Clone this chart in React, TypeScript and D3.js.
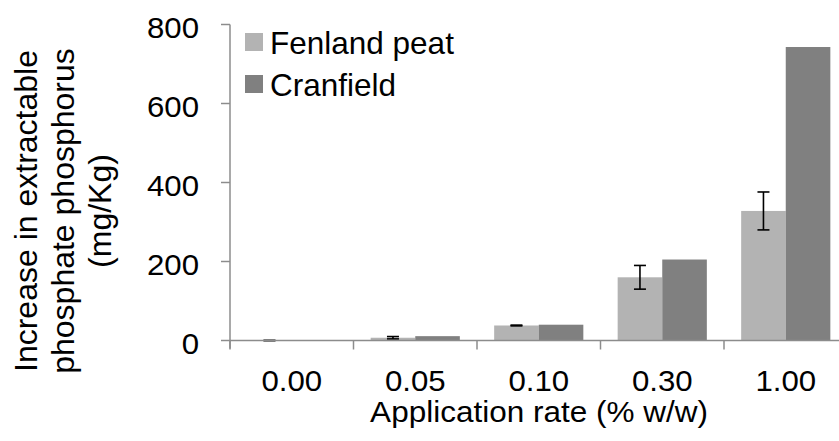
import React from "react";
import * as d3 from "d3";

// Application rates (% w/w) on the x axis
const rates = ["0.00", "0.05", "0.10", "0.30", "1.00"];
// Increase in extractable phosphate phosphorus (mg/Kg)
const fenland = [0, 7, 38, 160, 328];
const fenlandErr = [0, 3, 1, 30, 48];
const cranfield = [0, 11, 40, 205, 743];
const yTicks = [0, 200, 400, 600, 800];
const seriesNames = ["Fenland peat", "Cranfield"];
const seriesColors = ["#b3b3b3", "#808080"];
const yTitleLines = ["Increase in extractable", "phosphate phosphorus", "(mg/Kg)"];

const W = 839;
const H = 441;
const left = 230;
const catWidth = 123.5;
const top = 24.5;
const bottom = 340.5;
const font = "'Liberation Sans', Arial, sans-serif";
const axisColor = "#8c8c8c";

// Horizontally widened text label
function WideText(props: {
  x: number;
  y: number;
  anchor: "start" | "middle" | "end";
  size: number;
  sx: number;
  children: React.ReactNode;
}) {
  return (
    <g transform={`translate(${props.x},${props.y}) scale(${props.sx},1)`}>
      <text x={0} y={0} textAnchor={props.anchor} fontSize={props.size} fill="#000">
        {props.children}
      </text>
    </g>
  );
}

export default function App() {
  const x = d3
    .scaleBand<string>()
    .domain(rates)
    .range([left, left + catWidth * rates.length])
    .paddingInner(0)
    .paddingOuter(0);
  const y = d3.scaleLinear().domain([0, 800]).range([bottom, top]);
  const inner = d3
    .scaleBand<number>()
    .domain([0, 1])
    .range([0, x.bandwidth()])
    .paddingInner(0)
    .paddingOuter(0.385);

  const series = [fenland, cranfield];

  return (
    <svg
      width={W}
      height={H}
      style={{ position: "absolute", left: 0, top: 0, background: "#fff" }}
      fontFamily={font}
    >
      <rect width={W} height={H} fill="#fff" />
      {/* bars */}
      {series.map((vals, si) =>
        rates.map((r, i) => (
          <rect
            key={`${si}-${r}`}
            x={(x(r) as number) + (inner(si) as number)}
            y={y(vals[i])}
            width={inner.bandwidth()}
            height={y(0) - y(vals[i])}
            fill={seriesColors[si]}
          />
        ))
      )}
      {/* error bars on Fenland peat */}
      {rates.map((r, i) => {
        const cx = (x(r) as number) + (inner(0) as number) + inner.bandwidth() / 2;
        const y1 = y(fenland[i] + fenlandErr[i]);
        const y2 = y(fenland[i] - fenlandErr[i]);
        return (
          <g key={`err-${r}`} stroke="#000" strokeWidth={1.6}>
            <line x1={cx} x2={cx} y1={y1} y2={y2} />
            <line x1={cx - 6} x2={cx + 6} y1={y1} y2={y1} />
            <line x1={cx - 6} x2={cx + 6} y1={y2} y2={y2} />
          </g>
        );
      })}
      {/* y axis */}
      <line x1={left} x2={left} y1={top} y2={bottom + 8} stroke={axisColor} strokeWidth={1.5} />
      {yTicks.map((t) => (
        <g key={`yt-${t}`}>
          <line x1={left - 9} x2={left} y1={y(t)} y2={y(t)} stroke={axisColor} strokeWidth={1.5} />
          <WideText x={199} y={y(t) + 13} anchor="end" size={30} sx={1.04}>
            {t}
          </WideText>
        </g>
      ))}
      {/* x axis */}
      <line x1={left} x2={W + 20} y1={bottom} y2={bottom} stroke={axisColor} strokeWidth={1.5} />
      {rates.map((r) => (
        <g key={`xt-${r}`}>
          <line
            x1={x(r) as number}
            x2={x(r) as number}
            y1={bottom}
            y2={bottom + 9}
            stroke={axisColor}
            strokeWidth={1.5}
          />
          <WideText x={(x(r) as number) + x.bandwidth() / 2} y={391} anchor="middle" size={30} sx={1.04}>
            {r}
          </WideText>
        </g>
      ))}
      {/* axis titles */}
      <WideText x={539} y={422} anchor="middle" size={30} sx={1.05}>
        Application rate (% w/w)
      </WideText>
      <g transform={`translate(0, 211) rotate(-90)`} fontSize={32} fill="#000" textAnchor="middle">
        {yTitleLines.map((l, i) => (
          <text key={l} x={0} y={37 + i * 37}>
            {l}
          </text>
        ))}
      </g>
      {/* legend */}
      {seriesNames.map((n, i) => (
        <g key={n} transform={`translate(245, ${33 + i * 42})`}>
          <rect x={0} y={0} width={18} height={18} fill={seriesColors[i]} />
          <text x={25} y={21} fontSize={31.5} fill="#000">
            {n}
          </text>
        </g>
      ))}
    </svg>
  );
}
